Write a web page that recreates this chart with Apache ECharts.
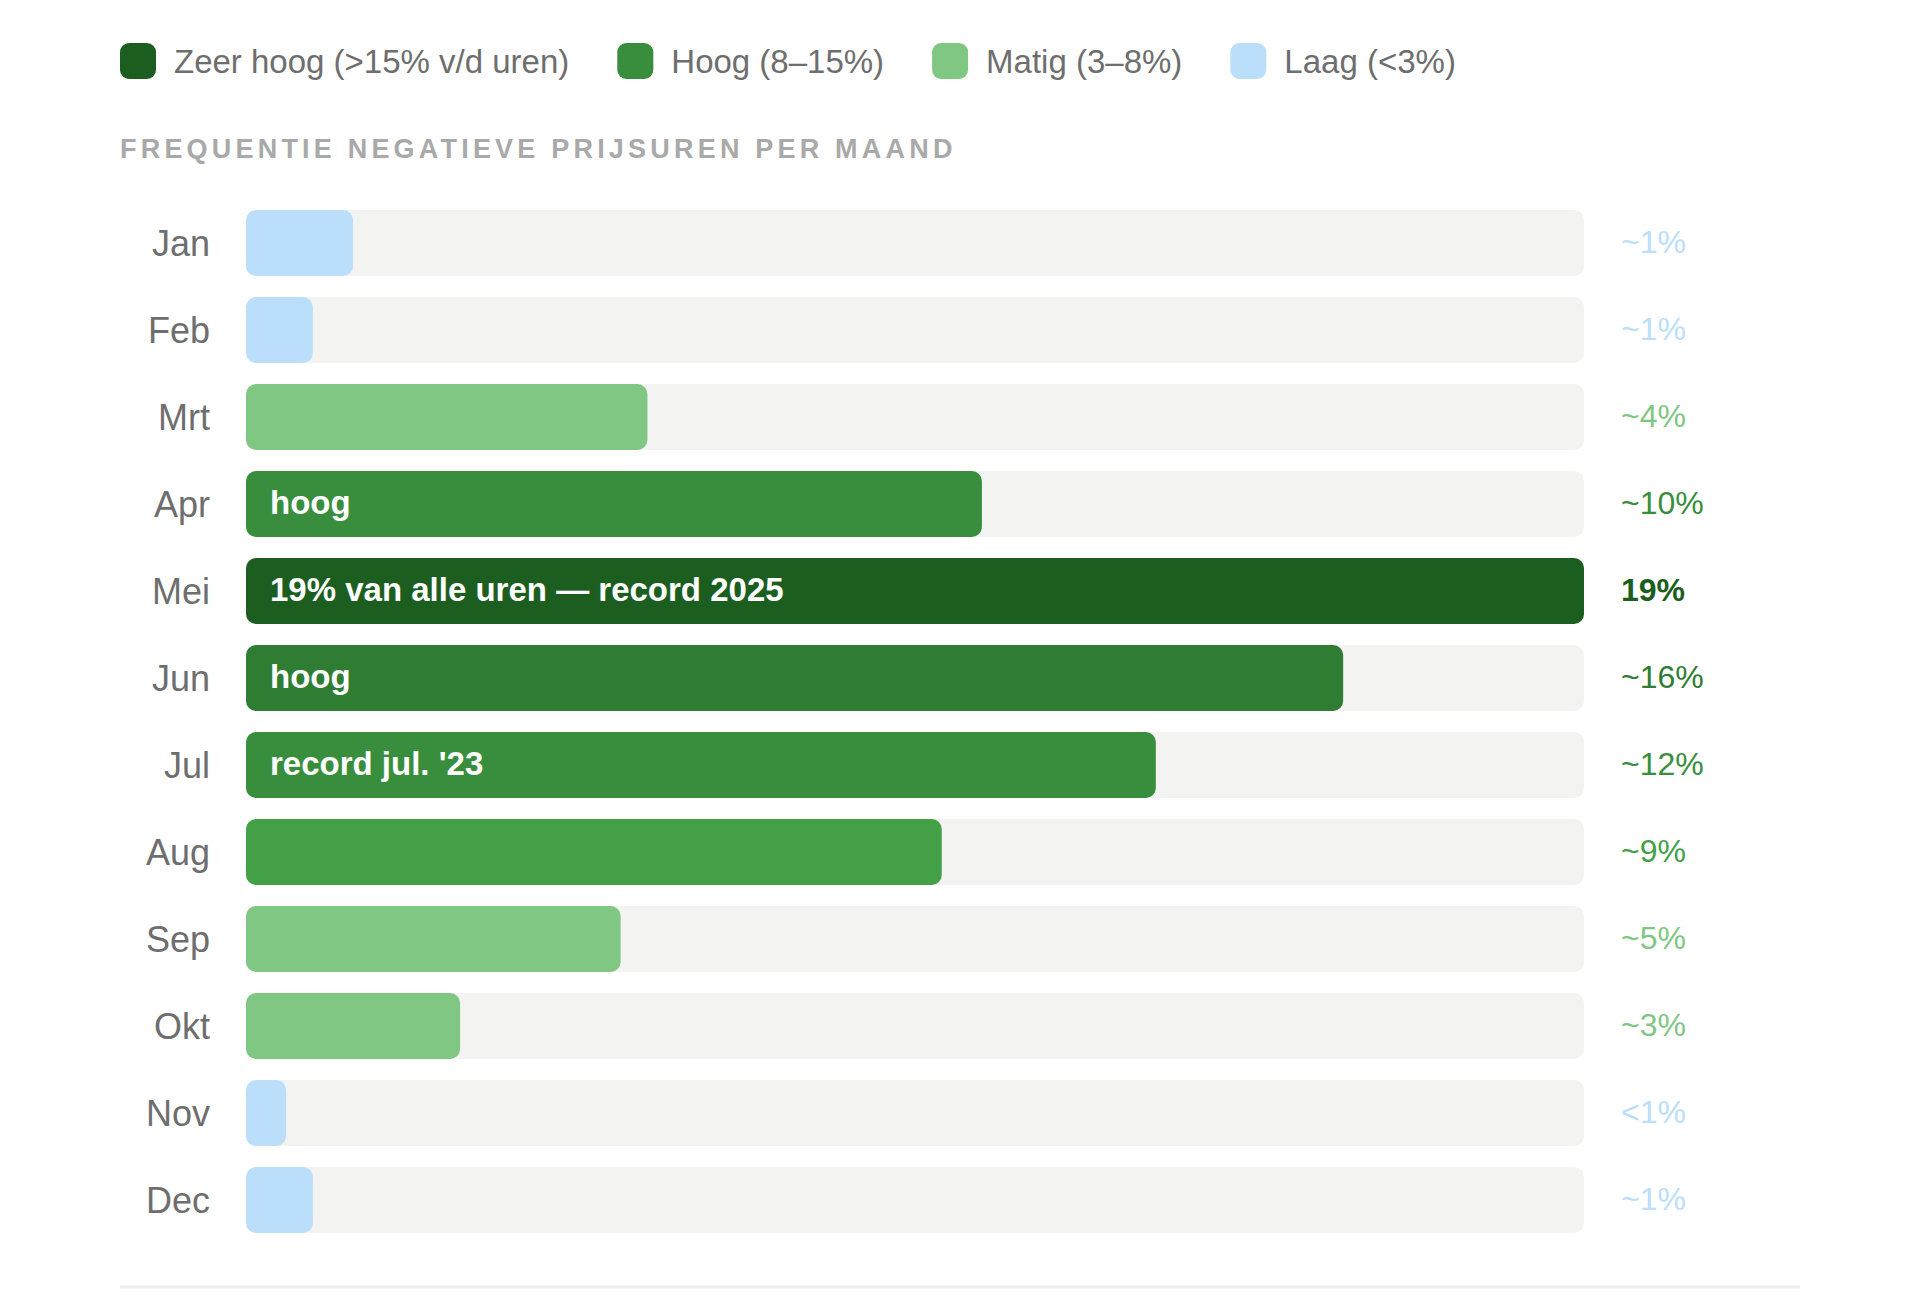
<!DOCTYPE html>
<html>
<head>
<meta charset="utf-8">
<script src="https://cdn.jsdelivr.net/npm/echarts@6/dist/echarts.min.js"></script>
<style>
    html, body { margin: 0; padding: 0; background: #ffffff; }
    #main { width: 1920px; height: 1314px; }
    /* zrender has no letter-spacing, so the subtitle gets it through css (svg renderer) */
    #main text[fill="#a9a9a9"] { letter-spacing: 4.2px; }
</style>
</head>
<body>
<div id="main"></div>
<script>
var months = ['Jan', 'Feb', 'Mrt', 'Apr', 'Mei', 'Jun', 'Jul', 'Aug', 'Sep', 'Okt', 'Nov', 'Dec'];
// bar length as share of the track (%)
var barValues = [8, 5, 30, 55, 100, 82, 68, 52, 28, 16, 3, 5];
var valueLabels = ['~1%', '~1%', '~4%', '~10%', '19%', '~16%', '~12%', '~9%', '~5%', '~3%', '<1%', '~1%'];
var barTexts = ['', '', '', 'hoog', '19% van alle uren — record 2025', 'hoog', "record jul. '23", '', '', '', '', ''];
// 0 = zeer hoog, 1 = hoog, 2 = matig, 3 = laag
var levels = [3, 3, 2, 1, 0, 1, 1, 1, 2, 2, 3, 3];
var barColors = ['#bbdefb', '#bbdefb', '#81c784', '#388e3c', '#1b5e20', '#2e7d32',
    '#388e3c', '#43a047', '#81c784', '#81c784', '#bbdefb', '#bbdefb'];
var levelNames = ['Zeer hoog (>15% v/d uren)', 'Hoog (8–15%)', 'Matig (3–8%)', 'Laag (<3%)'];
var levelColors = ['#1b5e20', '#388e3c', '#81c784', '#bbdefb'];
var trackMax = 100;

var fontFam = '"Liberation Sans", Arial, sans-serif';

var rich = {};
for (var i = 0; i < months.length; i++) {
    rich['r' + i] = {
        color: barColors[i],
        fontSize: 32,
        fontFamily: fontFam,
        fontWeight: i === 4 ? 'bold' : 'normal',
        padding: [0, 0, 3, 0]
    };
}

var trackData = [];
for (var i = 0; i < months.length; i++) trackData.push(trackMax);

var series = [{
    name: 'track',
    type: 'bar',
    silent: true,
    barWidth: 66,
    barGap: '-100%',
    itemStyle: { color: '#f3f3f1', borderRadius: 10 },
    data: trackData,
    z: 1
}];

for (var k = 0; k < levelNames.length; k++) {
    var d = [];
    for (var i = 0; i < months.length; i++) {
        if (levels[i] === k) {
            d.push({ value: barValues[i], itemStyle: { color: barColors[i] } });
        } else {
            d.push(null);
        }
    }
    series.push({
        name: levelNames[k],
        type: 'bar',
        barWidth: 66,
        barGap: '-100%',
        color: levelColors[k],
        itemStyle: { borderRadius: 10 },
        label: {
            show: true,
            position: 'insideLeft',
            distance: 24,
            offset: [0, -2],
            color: '#ffffff',
            fontSize: 33,
            fontWeight: 'bold',
            fontFamily: fontFam,
            formatter: function (p) { return barTexts[p.dataIndex]; }
        },
        data: d,
        z: 2
    });
}

var option = {
    backgroundColor: '#ffffff',
    animation: false,
    legend: {
        data: levelNames,
        left: 115,
        top: 38,
        icon: 'roundRect',
        itemWidth: 36,
        itemHeight: 36,
        itemGap: 48,
        selectedMode: false,
        textStyle: {
            color: '#6e6e6e',
            fontSize: 33,
            fontFamily: fontFam,
            padding: [0, 0, 0, 13]
        }
    },
    grid: {
        left: 246,
        right: 336,
        top: 199.5,
        height: 1044
    },
    xAxis: {
        type: 'value',
        min: 0,
        max: trackMax,
        show: false
    },
    yAxis: [{
        type: 'category',
        inverse: true,
        data: months,
        axisLine: { show: false },
        axisTick: { show: false },
        axisLabel: {
            margin: 36,
            color: '#6e6e6e',
            fontSize: 36,
            fontFamily: fontFam
        }
    }, {
        type: 'category',
        inverse: true,
        position: 'right',
        data: valueLabels,
        axisLine: { show: false },
        axisTick: { show: false },
        axisLabel: {
            margin: 37,
            align: 'left',
            formatter: function (v, idx) { return '{r' + idx + '|' + v + '}'; },
            rich: rich
        }
    }],
    graphic: [{
        type: 'text',
        left: 120,
        top: 135,
        style: {
            text: 'FREQUENTIE NEGATIEVE PRIJSUREN PER MAAND',
            fill: '#a9a9a9',
            font: 'bold 27px ' + fontFam
        }
    }, {
        type: 'line',
        shape: { x1: 120, y1: 1287, x2: 1800, y2: 1287 },
        style: { stroke: '#eeeeee', lineWidth: 3 }
    }],
    series: series
};

var myChart = echarts.init(document.getElementById('main'), null, { renderer: 'svg' });
myChart.setOption(option);
</script>
</body>
</html>
